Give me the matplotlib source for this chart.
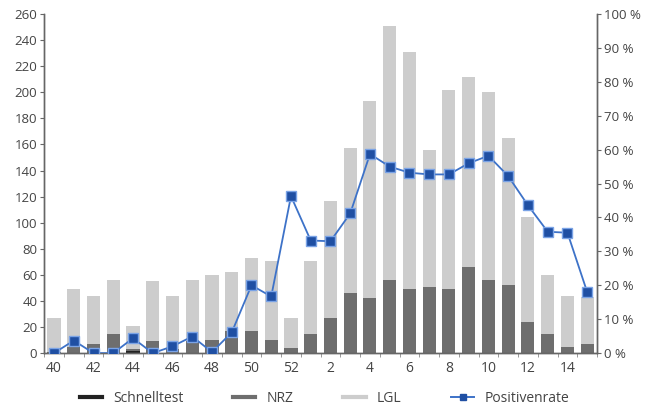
import matplotlib
matplotlib.use("Agg")
import matplotlib.pyplot as plt
from matplotlib.lines import Line2D
import numpy as np

# calendar weeks 40/2020 .. 15/2021
weeks = [40, 41, 42, 43, 44, 45, 46, 47, 48, 49, 50, 51, 52,
         1, 2, 3, 4, 5, 6, 7, 8, 9, 10, 11, 12, 13, 14, 15]
schnelltest = [0, 0, 0, 0, 2, 0, 0, 0, 0, 0, 0, 0, 0,
               0, 0, 0, 0, 0, 0, 0, 0, 0, 0, 0, 0, 0, 0, 0]
nrz = [1, 5, 7, 15, 1, 9, 3, 9, 10, 17, 17, 10, 4,
       15, 27, 46, 42, 56, 49, 51, 49, 66, 56, 52, 24, 15, 5, 7]
total = [27, 49, 44, 56, 21, 55, 44, 56, 60, 62, 73, 71, 27,
         71, 117, 157, 193, 251, 231, 156, 202, 212, 200, 165, 104, 60, 44, 43]
lgl = [t - n - s for t, n, s in zip(total, nrz, schnelltest)]
positivenrate = [0, 3.7, 0, 0, 4.4, 0, 2, 4.9, 0.3, 6.1, 20, 16.7, 46.3,
                 33.2, 33, 41.2, 58.7, 55, 53.2, 52.7, 52.7, 56, 58.2, 52.2, 43.6, 35.8, 35.5, 18]

col_schnell = "#222222"
col_nrz = "#6e6e6e"
col_lgl = "#cdcdcd"
col_line = "#3d72c8"
col_marker = "#1f4fa3"
txt = "#444444"

plt.rcParams['font.family'] = ['Open Sans', 'DejaVu Sans']

fig = plt.figure(figsize=(6.49, 4.13), dpi=100)
ax = fig.add_axes([0.068, 0.145, 0.852, 0.821])
ax2 = ax.twinx()

x = np.arange(len(weeks))
w = 0.66
ax.bar(x, schnelltest, w, color=col_schnell, zorder=2)
ax.bar(x, nrz, w, bottom=schnelltest, color=col_nrz, zorder=2)
ax.bar(x, lgl, w, bottom=np.array(schnelltest) + np.array(nrz), color=col_lgl, zorder=2)

ax2.plot(x, positivenrate, color=col_line, lw=1.3, marker="s", ms=6.5,
         mfc=col_marker, mec="#7aa3e6", mew=1.0, zorder=3)

ax.set_xlim(-0.5, len(weeks) - 0.5)
ax.set_ylim(0, 260)
ax2.set_ylim(0, 100)
ax.set_yticks(range(0, 261, 20))
ax2.set_yticks(range(0, 101, 10))
ax2.set_yticklabels([f"{v} %" for v in range(0, 101, 10)])

lab_pos = [i for i, wk in enumerate(weeks) if wk % 2 == 0]
ax.set_xticks(lab_pos)
ax.set_xticklabels([str(weeks[i]) for i in lab_pos])
ax.set_xticks(np.arange(-0.5, len(weeks), 1), minor=True)
ax.tick_params(axis="x", which="major", length=0, pad=6, labelsize=10, colors=txt)
ax.tick_params(axis="x", which="minor", length=3, color="#888888")
ax.tick_params(axis="y", length=3, labelsize=9.5, colors=txt, pad=2, color="#666666")
ax2.tick_params(axis="y", length=3, labelsize=9.5, colors=txt, pad=2, color="#666666")

for a in (ax, ax2):
    a.spines["top"].set_visible(False)
    for s in ("left", "right", "bottom"):
        a.spines[s].set_color("#666666")
        a.spines[s].set_linewidth(1)

handles = [
    Line2D([], [], color=col_schnell, lw=3),
    Line2D([], [], color=col_nrz, lw=3),
    Line2D([], [], color=col_lgl, lw=3),
    Line2D([], [], color=col_line, lw=1.4, marker="s", ms=5, mfc=col_marker, mec=col_marker),
]
fig.legend(handles, ["Schnelltest", "NRZ", "LGL", "Positivenrate"],
           loc="center", bbox_to_anchor=(0.5, 0.035), ncol=4, frameon=False,
           fontsize=10, handlelength=1.6, columnspacing=3.6, labelcolor=txt)

fig.savefig("out.png", dpi=100)
